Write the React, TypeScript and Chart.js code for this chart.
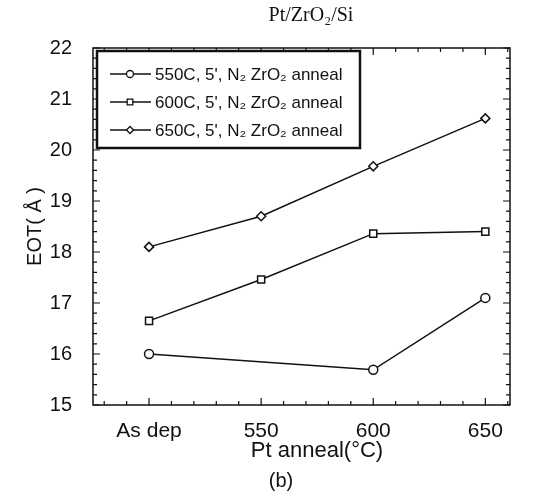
import React, { useEffect, useRef } from "react";
import { Chart, registerables } from "chart.js";
import { drawPoint } from "chart.js/helpers";

Chart.register(...registerables);

const categories = ["As dep", "550", "600", "650"];
const s550 = [16.0, null, 15.69, 17.1];
const s600 = [16.65, 17.46, 18.36, 18.4];
const s650 = [18.1, 18.7, 19.68, 20.62];
const seriesLabels = [
  "550C, 5', N\u2082 ZrO\u2082 anneal",
  "600C, 5', N\u2082 ZrO\u2082 anneal",
  "650C, 5', N\u2082 ZrO\u2082 anneal",
];
const yTicks = [15, 16, 17, 18, 19, 20, 21, 22];
const chartTitle = "Pt/ZrO\u2082/Si";
const xTitle = "Pt anneal(\u00B0C)";
const yTitle = "EOT( \u00C5 )";
const panelLabel = "(b)";

const SANS = "'Liberation Sans', Arial, Helvetica, sans-serif";
const SERIF = "'Liberation Serif', 'Times New Roman', serif";

const toPoints = (arr: (number | null)[]) =>
  arr.map((y, i) => ({ x: i, y }));

const framePlugin = {
  id: "frame",
  afterDatasetsDraw(chart: any) {
    const { ctx, chartArea: a, scales } = chart;
    const xs = scales.x;
    const ys = scales.y;
    ctx.save();
    ctx.strokeStyle = "#111";
    ctx.lineWidth = 1.5;
    ctx.strokeRect(a.left, a.top, a.right - a.left, a.bottom - a.top);
    ctx.lineWidth = 1.2;
    for (let i = 0; i <= 35; i++) {
      const v = 15 + i * 0.2;
      const py = ys.getPixelForValue(v);
      const len = i % 5 === 0 ? 7 : 4;
      ctx.beginPath();
      ctx.moveTo(a.left, py);
      ctx.lineTo(a.left + len, py);
      ctx.moveTo(a.right, py);
      ctx.lineTo(a.right - len, py);
      ctx.stroke();
    }
    for (let i = -2; i <= 16; i++) {
      const v = i * 0.2;
      const px = xs.getPixelForValue(v);
      if (px < a.left || px > a.right) continue;
      const len = i % 5 === 0 ? 7 : 4;
      ctx.beginPath();
      ctx.moveTo(px, a.bottom);
      ctx.lineTo(px, a.bottom - len);
      ctx.moveTo(px, a.top);
      ctx.lineTo(px, a.top + len);
      ctx.stroke();
    }
    ctx.restore();
  },
  afterDraw(chart: any) {
    const { ctx } = chart;
    ctx.save();
    ctx.fillStyle = "#111";
    ctx.textAlign = "center";
    ctx.textBaseline = "middle";
    ctx.font = `20px ${SERIF}`;
    ctx.fillText(chartTitle, 311, 16);
    ctx.font = `22px ${SANS}`;
    ctx.fillText(xTitle, 317, 451);
    ctx.font = `20px ${SANS}`;
    ctx.fillText(panelLabel, 281, 481);

    const bx = 97, by = 51, bw = 263, bh = 97;
    ctx.fillStyle = "#fff";
    ctx.fillRect(bx, by, bw, bh);
    ctx.strokeStyle = "#111";
    ctx.lineWidth = 2.5;
    ctx.strokeRect(bx, by, bw, bh);
    const rows = [74, 102, 130];
    chart.data.datasets.forEach((ds: any, i: number) => {
      const yy = rows[i];
      ctx.strokeStyle = "#111";
      ctx.lineWidth = 1.3;
      ctx.beginPath();
      ctx.moveTo(110, yy);
      ctx.lineTo(151, yy);
      ctx.stroke();
      ctx.fillStyle = "#fff";
      ctx.strokeStyle = "#111";
      ctx.lineWidth = 1.3;
      drawPoint(ctx, { pointStyle: ds.pointStyle, radius: ds.pointRadius - 1, borderWidth: 1.3, rotation: 0 } as any, 130, yy);
      ctx.fillStyle = "#111";
      ctx.textAlign = "left";
      ctx.textBaseline = "middle";
      ctx.font = `17px ${SANS}`;
      ctx.fillText(ds.label, 155, yy + 1);
    });
    ctx.restore();
  },
};

export default function App() {
  const ref = useRef<HTMLCanvasElement | null>(null);
  useEffect(() => {
    if (!ref.current) return;
    const common = {
      borderColor: "#111",
      borderWidth: 1.5,
      pointBackgroundColor: "#fff",
      pointBorderColor: "#111",
      pointBorderWidth: 1.5,
      spanGaps: true,
      tension: 0,
      fill: false,
    };
    const chart = new Chart(ref.current, {
      type: "line",
      data: {
        datasets: [
          { ...common, label: seriesLabels[0], data: toPoints(s550), pointStyle: "circle", pointRadius: 4.5 },
          { ...common, label: seriesLabels[1], data: toPoints(s600), pointStyle: "rect", pointRadius: 5 },
          { ...common, label: seriesLabels[2], data: toPoints(s650), pointStyle: "rectRot", pointRadius: 4.5 },
        ],
      },
      options: {
        animation: false,
        responsive: false,
        layout: { padding: { top: 48, right: 30, bottom: 0, left: 0 } },
        plugins: {
          legend: { display: false },
          title: { display: false },
          tooltip: { enabled: false },
        },
        scales: {
          x: {
            type: "linear",
            min: -0.5,
            max: 3.22,
            grid: { display: false },
            border: { display: false },
            afterBuildTicks: (s: any) => {
              s.ticks = categories.map((_, i) => ({ value: i }));
            },
            afterFit: (s: any) => {
              s.height = 95;
            },
            ticks: {
              autoSkip: false,
              maxRotation: 0,
              padding: 6,
              color: "#111",
              font: { family: SANS, size: 21 },
              callback: (v: any) => categories[v as number] ?? "",
            },
          },
          y: {
            type: "linear",
            min: yTicks[0],
            max: yTicks[yTicks.length - 1],
            grid: { display: false },
            border: { display: false },
            afterBuildTicks: (s: any) => {
              s.ticks = yTicks.map((v) => ({ value: v }));
            },
            afterFit: (s: any) => {
              s.width = 93;
            },
            ticks: {
              padding: 13,
              color: "#111",
              font: { family: SANS, size: 20 },
            },
            title: {
              display: true,
              text: yTitle,
              color: "#111",
              font: { family: SANS, size: 20 },
              padding: { top: 23, bottom: 0 },
            },
          },
        },
      },
      plugins: [framePlugin],
    } as any);
    return () => chart.destroy();
  }, []);
  return (
    <div style={{ position: "fixed", left: 0, top: 0, width: 540, height: 500, background: "#fff" }}>
      <canvas ref={ref} width={540} height={500} style={{ display: "block" }} />
    </div>
  );
}
